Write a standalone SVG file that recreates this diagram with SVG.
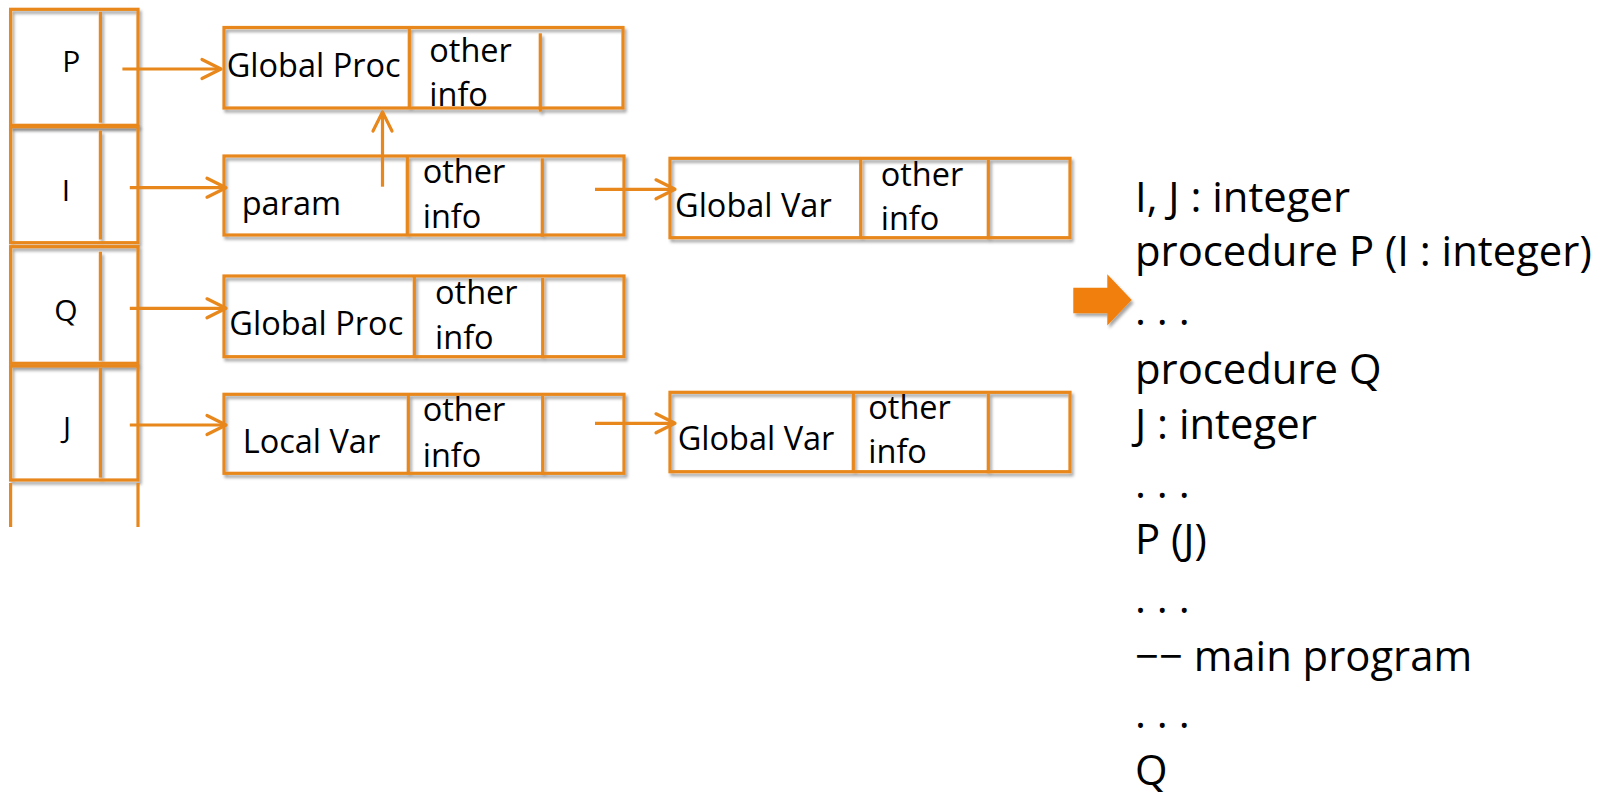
<svg xmlns="http://www.w3.org/2000/svg" width="1614" height="795" viewBox="0 0 1614 795">
  <style>
    .frame { fill: none; stroke: #E8871B; stroke-width: 3.2; }
    .wire { fill: none; stroke: #E8871B; stroke-width: 3.2; }
    .lbl { font-family: "Open Sans", "Liberation Sans", sans-serif; fill: #000; }
    .cell { font-size: 30px; text-anchor: middle; }
    .fld { font-size: 32.5px; }
    .code { font-size: 41.8px; }
  </style>
  <defs>
    <filter id="shadow" x="-10%" y="-10%" width="130%" height="140%">
      <feDropShadow dx="2" dy="3" stdDeviation="1.8" flood-color="#000" flood-opacity="0.35"/>
    </filter>
    <marker id="open-head" markerUnits="userSpaceOnUse" markerWidth="30" markerHeight="30" refX="0" refY="0" orient="auto" overflow="visible">
      <path d="M-19,-9.5 L0,0 L-19,9.5" fill="none" stroke="#E8871B" stroke-width="3.2" stroke-linecap="round" stroke-linejoin="round"/>
    </marker>
  </defs>

  <!-- symbol table stack -->
  <g id="cell-P">
    <g filter="url(#shadow)">
      <rect class="frame" x="10.6" y="9.3" width="127.4" height="116"/>
      <line class="frame" x1="100.4" y1="11.7" x2="100.4" y2="122.7"/>
    </g>
    <text class="lbl cell" x="71.3" y="72">P</text>
  </g>
  <g id="cell-I">
    <g filter="url(#shadow)">
      <rect class="frame" x="10.6" y="126.7" width="127.4" height="116"/>
      <line class="frame" x1="100.4" y1="130.5" x2="100.4" y2="239.5"/>
    </g>
    <text class="lbl cell" x="66" y="200.5">I</text>
  </g>
  <g id="cell-Q">
    <g filter="url(#shadow)">
      <rect class="frame" x="10.6" y="246.7" width="127.4" height="116.6"/>
      <line class="frame" x1="100.4" y1="251.7" x2="100.4" y2="360.7"/>
    </g>
    <text class="lbl cell" x="65.8" y="320.5">Q</text>
  </g>
  <g id="cell-J">
    <g filter="url(#shadow)">
      <rect class="frame" x="10.6" y="366" width="127.4" height="114"/>
      <line class="frame" x1="100.4" y1="368" x2="100.4" y2="477.7"/>
    </g>
    <text class="lbl cell" x="67" y="437.5">J</text>
  </g>
  <g id="stack-tail">
    <line class="frame" x1="10.6" y1="483" x2="10.6" y2="527"/>
    <line class="frame" x1="138" y1="483" x2="138" y2="527"/>
  </g>

  <!-- entry records -->
  <g id="entry-P-global-proc">
    <g filter="url(#shadow)">
      <rect class="frame" x="224" y="27.5" width="399" height="80.5"/>
      <line class="frame" x1="409.3" y1="27.5" x2="409.3" y2="108"/>
      <line class="frame" x1="540.3" y1="33.3" x2="540.3" y2="111.7"/>
    </g>
    <text class="lbl fld" x="226.7" y="77.3">Global Proc</text>
    <text class="lbl fld" x="429.3" y="61.7">other</text>
    <text class="lbl fld" x="429.3" y="106">info</text>
  </g>
  <g id="entry-I-param">
    <g filter="url(#shadow)">
      <rect class="frame" x="224" y="156" width="400" height="79"/>
      <line class="frame" x1="407.3" y1="156" x2="407.3" y2="235"/>
      <line class="frame" x1="542.3" y1="158.3" x2="542.3" y2="236.7"/>
    </g>
    <text class="lbl fld" x="241.7" y="215">param</text>
    <text class="lbl fld" x="422.7" y="183.3">other</text>
    <text class="lbl fld" x="422.7" y="227.7">info</text>
  </g>
  <g id="entry-I-global-var">
    <g filter="url(#shadow)">
      <rect class="frame" x="670" y="158.3" width="400" height="79.4"/>
      <line class="frame" x1="860.7" y1="158.3" x2="860.7" y2="237.7"/>
      <line class="frame" x1="988.3" y1="160" x2="988.3" y2="239.3"/>
    </g>
    <text class="lbl fld" x="675" y="216.7">Global Var</text>
    <text class="lbl fld" x="880.7" y="186">other</text>
    <text class="lbl fld" x="880.7" y="230">info</text>
  </g>
  <g id="entry-Q-global-proc">
    <g filter="url(#shadow)">
      <rect class="frame" x="224" y="276" width="400" height="80.7"/>
      <line class="frame" x1="414.3" y1="276" x2="414.3" y2="356.7"/>
      <line class="frame" x1="542.7" y1="278" x2="542.7" y2="358.3"/>
    </g>
    <text class="lbl fld" x="229.3" y="335">Global Proc</text>
    <text class="lbl fld" x="435" y="304.3">other</text>
    <text class="lbl fld" x="435" y="349.3">info</text>
  </g>
  <g id="entry-J-local-var">
    <g filter="url(#shadow)">
      <rect class="frame" x="224" y="394.3" width="400" height="79"/>
      <line class="frame" x1="408.3" y1="394.3" x2="408.3" y2="473.3"/>
      <line class="frame" x1="542.7" y1="396" x2="542.7" y2="475"/>
    </g>
    <text class="lbl fld" x="242.7" y="452.7">Local Var</text>
    <text class="lbl fld" x="422.7" y="421">other</text>
    <text class="lbl fld" x="422.7" y="466.7">info</text>
  </g>
  <g id="entry-J-global-var">
    <g filter="url(#shadow)">
      <rect class="frame" x="670" y="392.3" width="400" height="79.4"/>
      <line class="frame" x1="853.3" y1="392.3" x2="853.3" y2="471.7"/>
      <line class="frame" x1="988.3" y1="394" x2="988.3" y2="473.3"/>
    </g>
    <text class="lbl fld" x="677.7" y="450">Global Var</text>
    <text class="lbl fld" x="868.3" y="419.3">other</text>
    <text class="lbl fld" x="868.3" y="463.3">info</text>
  </g>

  <!-- links between stack cells and records -->
  <g id="connectors">
    <line class="wire" x1="122.4" y1="69" x2="221" y2="69" marker-end="url(#open-head)"/>
    <line class="wire" x1="129.8" y1="187.7" x2="226" y2="187.7" marker-end="url(#open-head)"/>
    <line class="wire" x1="382.5" y1="186.7" x2="382.5" y2="112" marker-end="url(#open-head)"/>
    <line class="wire" x1="595" y1="189.3" x2="675" y2="189.3" marker-end="url(#open-head)"/>
    <line class="wire" x1="129.8" y1="308.3" x2="226" y2="308.3" marker-end="url(#open-head)"/>
    <line class="wire" x1="129.8" y1="425" x2="226" y2="425" marker-end="url(#open-head)"/>
    <line class="wire" x1="595" y1="423.3" x2="675" y2="423.3" marker-end="url(#open-head)"/>
  </g>

  <!-- current position pointer -->
  <g id="pointer" filter="url(#shadow)">
    <polygon points="1073.3,287.7 1107.3,287.7 1107.3,274.3 1131.7,300 1107.3,325.5 1107.3,313.3 1073.3,313.3" fill="#F07F0A"/>
  </g>

  <!-- source listing -->
  <g id="listing">
    <text class="lbl code" x="1135">
      <tspan x="1135" y="211.5">I, J : integer</tspan>
      <tspan x="1135" y="266">procedure P (I : integer)</tspan>
      <tspan x="1135" y="324.5">. . .</tspan>
      <tspan x="1135" y="383.5">procedure Q</tspan>
      <tspan x="1135" y="438.5">J : integer</tspan>
      <tspan x="1135" y="497.5">. . .</tspan>
      <tspan x="1135" y="554">P (J)</tspan>
      <tspan x="1135" y="612.5">. . .</tspan>
      <tspan x="1135" y="670.5">−− main program</tspan>
      <tspan x="1135" y="728">. . .</tspan>
      <tspan x="1135" y="785">Q</tspan>
    </text>
  </g>
</svg>
